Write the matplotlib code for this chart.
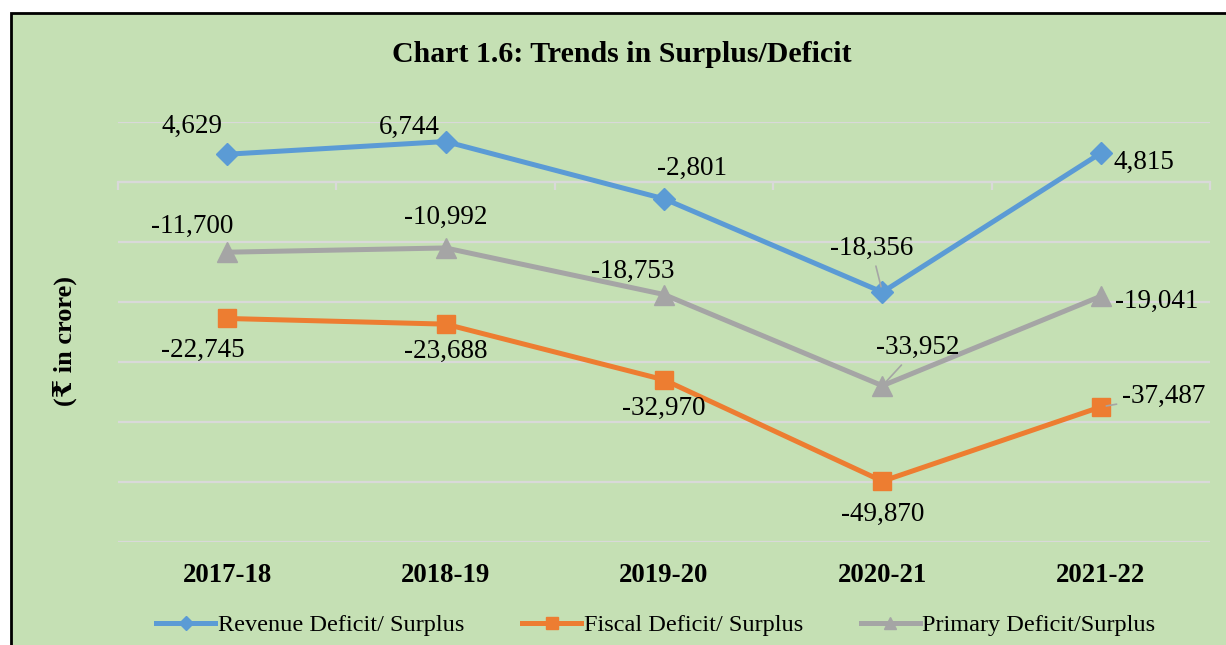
#!/usr/bin/env python3
import matplotlib
matplotlib.use('Agg')
import matplotlib.pyplot as plt
from matplotlib.lines import Line2D
from matplotlib.patches import Rectangle
import numpy as np

years = ['2017-18', '2018-19', '2019-20', '2020-21', '2021-22']
revenue = [4629, 6744, -2801, -18356, 4815]
fiscal = [-22745, -23688, -32970, -49870, -37487]
primary = [-11700, -10992, -18753, -33952, -19041]
series_names = ['Revenue Deficit/ Surplus', 'Fiscal Deficit/ Surplus', 'Primary Deficit/Surplus']

plt.rcParams['font.family'] = ['Liberation Serif', 'DejaVu Serif', 'DejaVu Sans']

BG = '#C5E0B4'
GRID = '#D9D9D9'
BLUE, ORANGE, GREY = '#5B9BD5', '#ED7D31', '#A5A5A5'

fig = plt.figure(figsize=(12.26, 6.45), dpi=100)
fig.patch.set_facecolor('white')
# green chart area with black frame
fig.patches.append(Rectangle((11/1226, -0.05), 1.1, 1 - 13/645 + 0.05, transform=fig.transFigure,
                             facecolor=BG, edgecolor='black', lw=2, zorder=-5))

ax = fig.add_axes([118/1226, 1 - 542/645, (1210 - 118)/1226, 420/645])
ax.set_facecolor('none')
x = np.arange(len(years))
ax.set_xlim(-0.5, 4.5)
ax.set_ylim(-60000, 10000)

ax.set_yticks(np.arange(-60000, 10001, 10000))
ax.tick_params(axis='y', length=0, labelleft=False)
ax.yaxis.grid(True, color=GRID, lw=1.6)
ax.set_axisbelow(True)
for s in ['left', 'right', 'top']:
    ax.spines[s].set_visible(False)
ax.spines['bottom'].set_position(('data', 0))
ax.spines['bottom'].set_color(GRID)
ax.spines['bottom'].set_linewidth(1.6)
ax.set_xticks(x)
ax.tick_params(axis='x', which='major', length=0, labelbottom=False)
ax.set_xticks(np.arange(-0.5, 4.6, 1), minor=True)
ax.tick_params(axis='x', which='minor', length=6, width=1.6, color=GRID)

sec = ax.secondary_xaxis('bottom')
sec.set_xticks(x, years, fontsize=19.4, fontweight='bold')
sec.tick_params(length=0, pad=15)
sec.spines['bottom'].set_visible(False)

ax.plot(x, revenue, color=BLUE, lw=3.6, marker='D', ms=11.5, zorder=3)
ax.plot(x, fiscal, color=ORANGE, lw=3.6, marker='s', ms=13.5, zorder=3)
ax.plot(x, primary, color=GREY, lw=3.6, marker='^', ms=14, zorder=3)

# label offsets in pixels (dx, dy)
rev_off = [(-35, 28), (-36, 14), (28, 30), (-11, 44), (43, -9)]
fis_off = [(-24, -32), (0, -27), (0, -29), (0, -33), (63, 11)]
pri_off = [(-35, 26), (0, 31), (-31, 23), (35, 38), (56, -5)]
leaders = {('r', 3), ('f', 4), ('p', 3)}

for key, vals, offs in [('r', revenue, rev_off), ('f', fiscal, fis_off), ('p', primary, pri_off)]:
    for i, (v, off) in enumerate(zip(vals, offs)):
        ap = None
        if (key, i) in leaders:
            ap = dict(arrowstyle='-', color=GREY, lw=1.2, shrinkA=2, shrinkB=4)
        ax.annotate(f'{v:,}', (x[i], v), xytext=off, textcoords='offset pixels',
                    ha='center', va='center', fontsize=19.5, arrowprops=ap, zorder=4)

fig.text(622/1226, 1 - 55/645, 'Chart 1.6: Trends in Surplus/Deficit', ha='center', va='center',
         fontsize=21.5, fontweight='bold')
fig.text(65/1226, 1 - 341/645, '(₹ in crore)', ha='center', va='center', rotation=90,
         fontsize=19, fontweight='bold')

handles = [Line2D([], [], color=BLUE, lw=3.6, marker='D', ms=7),
           Line2D([], [], color=ORANGE, lw=3.6, marker='s', ms=8),
           Line2D([], [], color=GREY, lw=3.6, marker='^', ms=8)]
fig.legend(handles, series_names, loc='center', bbox_to_anchor=(656/1226, 1 - 625/645), ncol=3,
           frameon=False, fontsize=17.5, handlelength=2.4, handletextpad=0.12,
           columnspacing=2.4, borderpad=0, borderaxespad=0)

fig.savefig('out.png', dpi=100, facecolor='white')
